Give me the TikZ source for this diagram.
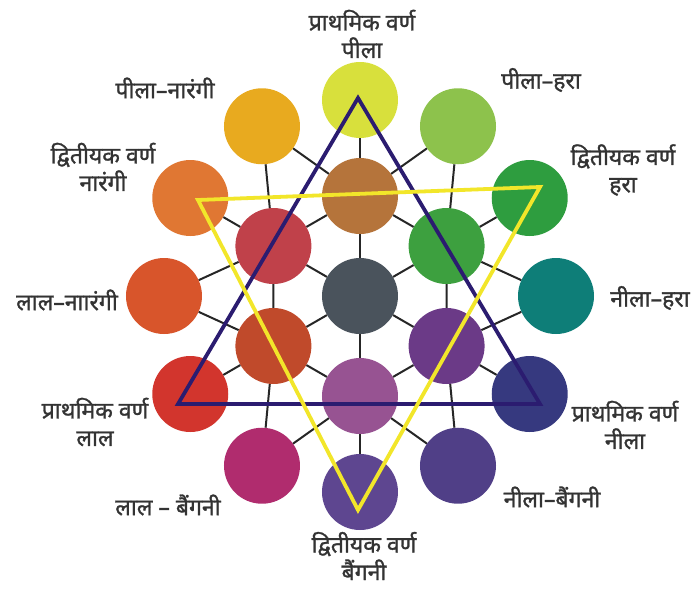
\documentclass[tikz,border=0pt]{standalone}
\usepackage{fontspec}
\newfontfamily\hindi[Script=Devanagari, FakeBold=1.2]{Noto Sans}

\definecolor{cYel}{HTML}{D8E03C}
\definecolor{cYelGrn}{HTML}{8DC24C}
\definecolor{cGrn}{HTML}{2E9D3F}
\definecolor{cTeal}{HTML}{0E7E78}
\definecolor{cBlue}{HTML}{36397F}
\definecolor{cBlueVio}{HTML}{503F87}
\definecolor{cVio}{HTML}{5E4690}
\definecolor{cMag}{HTML}{B02C6E}
\definecolor{cRed}{HTML}{D2352D}
\definecolor{cRedOr}{HTML}{D8552B}
\definecolor{cOr}{HTML}{E07733}
\definecolor{cYelOr}{HTML}{E8AA1F}
\definecolor{cBrown}{HTML}{B5743B}
\definecolor{cInGrn}{HTML}{3DA03F}
\definecolor{cInVio}{HTML}{6B3A87}
\definecolor{cPlum}{HTML}{975392}
\definecolor{cRust}{HTML}{C04A2B}
\definecolor{cInRed}{HTML}{C0414A}
\definecolor{cSlate}{HTML}{4A535C}
\definecolor{triBlue}{HTML}{2B1C70}
\definecolor{triYel}{HTML}{F2E62A}

\begin{document}
\begin{tikzpicture}[x=1pt, y=1pt,
  dot/.style={circle, inner sep=0pt, minimum size=76pt},
  grid/.style={line width=2pt, black!85},
  lbl/.style={align=center, font=\hindi\fontsize{23}{27.5}\selectfont, text=black!80},
  tri/.style={line width=3.8pt}
]
  \useasboundingbox (-360,-294) rectangle (339,296);

  % outer ring
  \node[dot, fill=cTeal]    (o0)   at (0:196)   {};
  \node[dot, fill=cGrn]     (o30)  at (30:196)  {};
  \node[dot, fill=cYelGrn]  (o60)  at (60:196)  {};
  \node[dot, fill=cYel]     (o90)  at (90:196)  {};
  \node[dot, fill=cYelOr]   (o120) at (120:196) {};
  \node[dot, fill=cOr]      (o150) at (150:196) {};
  \node[dot, fill=cRedOr]   (o180) at (180:196) {};
  \node[dot, fill=cRed]     (o210) at (210:196) {};
  \node[dot, fill=cMag]     (o240) at (240:196) {};
  \node[dot, fill=cVio]     (o270) at (270:196) {};
  \node[dot, fill=cBlueVio] (o300) at (300:196) {};
  \node[dot, fill=cBlue]    (o330) at (330:196) {};

  % inner ring and centre
  \node[dot, fill=cInGrn]   (i30)  at (30:100)  {};
  \node[dot, fill=cBrown]   (i90)  at (90:100)  {};
  \node[dot, fill=cInRed]   (i150) at (150:100) {};
  \node[dot, fill=cRust]    (i210) at (210:100) {};
  \node[dot, fill=cPlum]    (i270) at (270:100) {};
  \node[dot, fill=cInVio]   (i330) at (330:100) {};
  \node[dot, fill=cSlate]   (c)    at (0,0)     {};

  % grid
  \draw[grid] (o90) -- (i90) -- (c) -- (i270) -- (o270);
  \draw[grid] (o30) -- (i30) -- (c) -- (i210) -- (o210);
  \draw[grid] (o150) -- (i150) -- (c) -- (i330) -- (o330);
  \draw[grid] (o180) -- (i150) -- (i90) -- (o60);
  \draw[grid] (o120) -- (i150) -- (i210) -- (o240);
  \draw[grid] (o180) -- (i210) -- (i270) -- (o300);
  \draw[grid] (o240) -- (i270) -- (i330) -- (o0);
  \draw[grid] (o300) -- (i330) -- (i30) -- (o60);
  \draw[grid] (o0) -- (i30) -- (i90) -- (o120);

  % triangles
  \coordinate (b1) at (-2,198);
  \coordinate (b2) at (-182,-108);
  \coordinate (b3) at (180,-108);
  \coordinate (y1) at (-162,96);
  \coordinate (y2) at (180,109);
  \coordinate (y3) at (-2,-214);
  \draw[tri, triBlue] (b1) -- (b2) -- (b3) -- cycle;
  \draw[tri, triYel] (y1) -- (y2) -- (y3) -- cycle;

  % labels
  \node[lbl] (tYel)     at (2,262)     {प्राथमिक वर्ण\\पीला};
  \node[lbl] (tYelOr)   at (-195,208)  {पीला–नारंगी};
  \node[lbl] (tOr)      at (-257,129)  {द्वितीयक वर्ण\\नारंगी};
  \node[lbl] (tRedOr)   at (-293,-4)   {लाल–नाारंगी};
  \node[lbl] (tRed)     at (-265,-126) {प्राथमिक वर्ण\\लाल};
  \node[lbl] (tMag)     at (-192,-209) {लाल – बैंगनी};
  \node[lbl] (tVio)     at (4,-260)    {द्वितीयक वर्ण\\बैंगनी};
  \node[lbl] (tYelGrn)  at (181,216)   {पीला–हरा};
  \node[lbl] (tGrn)     at (263,126)   {द्वितीयक वर्ण\\हरा};
  \node[lbl] (tTeal)    at (290,-2)    {नीला–हरा};
  \node[lbl] (tBlue)    at (265,-129)  {प्राथमिक वर्ण\\नीला};
  \node[lbl] (tBlueVio) at (192,-201)  {नीला–बैंगनी};
\end{tikzpicture}
\end{document}
